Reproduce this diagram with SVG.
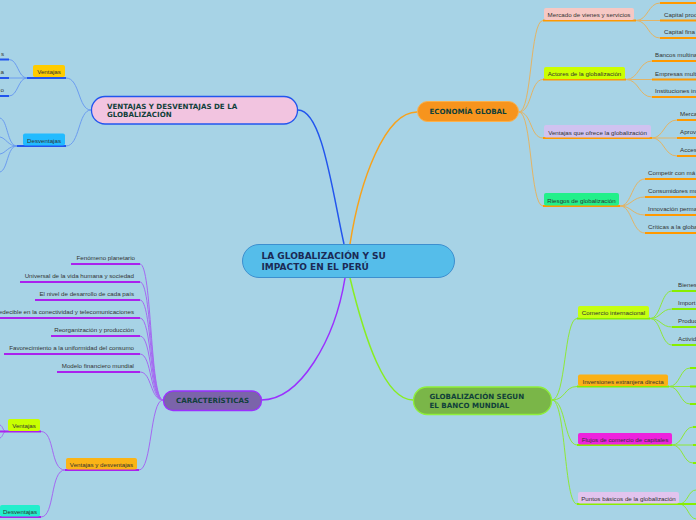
<svg xmlns="http://www.w3.org/2000/svg" width="696" height="520" viewBox="0 0 696 520">
<style>
.bg{fill:#a7d3e6}
.t{font-family:"Liberation Sans",Arial,sans-serif;font-size:6.2px;fill:#333}
.tm{font-family:"Liberation Sans",Arial,sans-serif;font-size:6.2px;fill:#333;text-anchor:middle}
.te{font-family:"Liberation Sans",Arial,sans-serif;font-size:6.2px;fill:#333;text-anchor:end}
.main{font-family:"DejaVu Sans",Verdana,sans-serif;font-weight:bold;font-size:7.1px;fill:#10403a}
.mainc{font-family:"DejaVu Sans",Verdana,sans-serif;font-weight:bold;font-size:7.1px;fill:#10403a;text-anchor:middle}
.center{font-family:"DejaVu Sans",Verdana,sans-serif;font-weight:bold;font-size:9px;fill:#1b2a55}
.c{fill:none}
.cb{stroke:#2255ee;stroke-width:1.5}
.co{stroke:#f7a21b;stroke-width:1.5}
.cp{stroke:#9b30ff;stroke-width:1.5}
.cg{stroke:#88ee22;stroke-width:1.5}
.sb{stroke:#6b9cf0;stroke-width:1}
.so{stroke:#e3b465;stroke-width:1}
.sp{stroke:#a468f2;stroke-width:1}
.sg{stroke:#8ee838;stroke-width:1}
.ub{stroke:#2255ee;stroke-width:2}
.uo{stroke:#ff9900;stroke-width:2}
.up{stroke:#aa22ee;stroke-width:2}
.ug{stroke:#88ee00;stroke-width:2}
</style>
<rect class="bg" x="0" y="0" width="696" height="520"/>

<g id="connectors" class="c">
  <!-- main -->
  <path class="cb" d="M298,110 C322,110 332,190 344,244"/>
  <path class="co" d="M350,244 C360,180 385,112 417,112"/>
  <path class="cp" d="M345,278 C335,340 300,400 261.5,400"/>
  <path class="cg" d="M350,278 C365,340 385,400 413,400"/>

  <!-- ventajas y desventajas group -->
  <path class="sb" d="M91,110 C78,110 80,78 66,78"/>
  <path class="sb" d="M91,110 C78,110 80,146 66,146"/>
  <path class="sb" d="M27,78 C18,78 18,59.5 9,59.5"/>
  <path class="sb" d="M27,78 H9"/>
  <path class="sb" d="M27,78 C18,78 18,96 9,96"/>
  <path class="sb" d="M17,146 C7,146 8,120 0,118"/>
  <path class="sb" d="M17,146 C8,146 6,138 0,137"/>
  <path class="sb" d="M17,146 C8,146 6,153 0,154"/>
  <path class="sb" d="M17,146 C7,146 8,170 0,172"/>
  <path class="ub" d="M27,78 H66 M0,59.5 H9 M0,78 H9 M0,96 H9 M17,146 H66"/>

  <!-- economia global group -->
  <path class="so" d="M519,112 C532,112 530,20.5 543,20.5"/>
  <path class="so" d="M519,112 C532,112 530,79.5 543,79.5"/>
  <path class="so" d="M519,112 C532,112 530,138 543,138"/>
  <path class="so" d="M519,112 C532,112 530,206 543,206"/>
  <path class="so" d="M636,20.5 C648,20.5 648,3 660,3"/>
  <path class="so" d="M636,20.5 H660"/>
  <path class="so" d="M636,20.5 C648,20.5 648,38 660,38"/>
  <path class="so" d="M626,79.5 C639,79.5 639,61 652,61"/>
  <path class="so" d="M626,79.5 H652"/>
  <path class="so" d="M626,79.5 C639,79.5 639,97 652,97"/>
  <path class="so" d="M652,138 C664,138 664,120 677,120"/>
  <path class="so" d="M652,138 H677"/>
  <path class="so" d="M652,138 C664,138 664,156 677,156"/>
  <path class="so" d="M620,206 C632,206 632,179 645,179"/>
  <path class="so" d="M620,206 C632,206 632,197 645,197"/>
  <path class="so" d="M620,206 C632,206 632,215 645,215"/>
  <path class="so" d="M620,206 C632,206 632,233 645,233"/>
  <path class="uo" d="M543,20.5 H636 M543,79.5 H626 M543,138 H652 M543,206 H620"/>
  <path class="uo" d="M660,3 H696 M660,20.5 H696 M660,38 H696"/>
  <path class="uo" d="M652,61 H696 M652,79.5 H696 M652,97 H696"/>
  <path class="uo" d="M677,120 H696 M677,138 H696 M677,156 H696"/>
  <path class="uo" d="M645,179 H696 M645,197 H696 M645,215 H696 M645,233 H696"/>

  <!-- banco mundial group -->
  <path class="sg" d="M552,400 C566,400 564,318.5 577,318.5"/>
  <path class="sg" d="M552,400 C566,400 564,386.5 577,386.5"/>
  <path class="sg" d="M552,400 C566,400 564,445 577,445"/>
  <path class="sg" d="M552,400 C566,400 564,504 577,504"/>
  <path class="sg" d="M650,318.5 C661,318.5 661,291 672,291"/>
  <path class="sg" d="M650,318.5 C661,318.5 661,309 672,309"/>
  <path class="sg" d="M650,318.5 C661,318.5 661,327 672,327"/>
  <path class="sg" d="M650,318.5 C661,318.5 661,345 672,345"/>
  <path class="sg" d="M669,386.5 C680,386.5 680,368 690,368"/>
  <path class="sg" d="M669,386.5 H690"/>
  <path class="sg" d="M669,386.5 C680,386.5 680,404 690,404"/>
  <path class="sg" d="M672,445 C683,445 683,427 693,427"/>
  <path class="sg" d="M672,445 H693"/>
  <path class="sg" d="M672,445 C683,445 683,463 693,463"/>
  <path class="sg" d="M679,504 C688,504 688,490 696,490"/>
  <path class="sg" d="M679,504 C688,504 688,518 696,519"/>
  <path class="ug" d="M577,318.5 H650 M577,386.5 H669 M577,445 H672 M577,504 H696"/>
  <path class="ug" d="M672,291 H696 M672,309 H696 M672,327 H696 M672,345 H696"/>
  <path class="ug" d="M690,368 H696 M690,386.5 H696 M690,404 H696 M693,427 H696 M693,445 H696 M693,463 H696"/>

  <!-- caracteristicas group -->
  <path class="sp" d="M163,400 C150,400 152,264 140,264"/>
  <path class="sp" d="M163,400 C150,400 152,282 140,282"/>
  <path class="sp" d="M163,400 C150,400 152,300 140,300"/>
  <path class="sp" d="M163,400 C150,400 152,318 140,318"/>
  <path class="sp" d="M163,400 C150,400 152,336 140,336"/>
  <path class="sp" d="M163,400 C150,400 152,354 140,354"/>
  <path class="sp" d="M163,400 C150,400 152,372 140,372"/>
  <path class="sp" d="M163,400 C150,400 152,470 139,470"/>
  <path class="sp" d="M65,470 C50,470 55,431.5 41,431.5"/>
  <path class="sp" d="M65,470 C50,470 55,517 41,517"/>
  <path class="sp" d="M6,431.5 C3,431.5 3,426 0,425"/>
  <path class="sp" d="M6,431.5 C3,431.5 3,437 0,438"/>
  <path class="up" d="M71,264 H140 M20,282 H140 M35,300 H140 M0,318 H140 M51,336 H140 M4,354 H140 M57,372 H140"/>
  <path class="up" d="M65,470 H139 M0,431.5 H41 M0,517 H41"/>
</g>

<g id="center">
  <rect x="242.5" y="244.5" width="212" height="33" rx="16.5" fill="#55bdea" stroke="#3d8fcf" stroke-width="1"/>
  <text class="center" x="261.5" y="259">LA GLOBALIZACIÓN Y SU</text>
  <text class="center" x="261.5" y="269.5">IMPACTO EN EL PERÚ</text>
</g>

<g id="ventajas-desventajas">
  <rect x="91.5" y="96.5" width="206" height="27.5" rx="13.5" fill="#f2c4e0" stroke="#2255ee" stroke-width="1.3"/>
  <text class="main" x="107" y="109">VENTAJAS Y DESVENTAJAS DE LA</text>
  <text class="main" x="107" y="117">GLOBALIZACIÓN</text>
</g>
<g id="vd-ventajas">
  <rect x="33" y="65" width="32" height="12" rx="2" fill="#ffcc00"/>
  <text class="tm" x="49" y="74">Ventajas</text>
  <text class="te" x="4" y="55.5">s</text>
  <text class="te" x="4" y="74">a</text>
  <text class="te" x="4" y="92">o</text>
</g>
<g id="vd-desventajas">
  <rect x="23" y="133.5" width="42" height="12" rx="2" fill="#22bbff"/>
  <text class="tm" x="44" y="142.5">Desventajas</text>
</g>

<g id="economia">
  <rect x="417.5" y="101.5" width="101" height="20" rx="10" fill="#f7941d" stroke="#fbb04a" stroke-width="1"/>
  <text class="mainc" x="468" y="114">ECONOMÍA GLOBAL</text>
</g>
<g id="eco-mercado">
  <rect x="544" y="8" width="90" height="12" rx="2" fill="#f6c8c4"/>
  <text class="tm" x="589" y="17">Mercado de vienes y servicios</text>
  <text class="t" x="664" y="16.5">Capital prod</text>
  <text class="t" x="664" y="34">Capital fina</text>
</g>
<g id="eco-actores">
  <rect x="544" y="67" width="81" height="12" rx="2" fill="#ccff00"/>
  <text class="tm" x="584.5" y="76">Actores de la globalización</text>
  <text class="t" x="655" y="57">Bancos multina</text>
  <text class="t" x="655" y="75.5">Empresas multi</text>
  <text class="t" x="655" y="93">Instituciones in</text>
</g>
<g id="eco-ventajas">
  <rect x="544" y="125" width="107" height="12.5" rx="2" fill="#d0c2f0"/>
  <text class="tm" x="597.5" y="134.5">Ventajas que ofrece la globalización</text>
  <text class="t" x="680" y="116">Merca</text>
  <text class="t" x="680" y="134">Aprov</text>
  <text class="t" x="680" y="152">Acces</text>
</g>
<g id="eco-riesgos">
  <rect x="544" y="193" width="75" height="12.5" rx="2" fill="#22f08a"/>
  <text class="tm" x="581.5" y="202.5">Riesgos de globalización</text>
  <text class="t" x="648" y="175">Competir con má</text>
  <text class="t" x="648" y="193">Consumidores mu</text>
  <text class="t" x="648" y="211">Innovación perma</text>
  <text class="t" x="648" y="229">Críticas a la globa</text>
</g>

<g id="banco">
  <rect x="413.5" y="387" width="138" height="27.5" rx="13.5" fill="#7ab648" stroke="#8ef03a" stroke-width="1.3"/>
  <text class="main" x="429.5" y="398.5">GLOBALIZACIÓN SEGUN</text>
  <text class="main" x="429.5" y="408">EL BANCO MUNDIAL</text>
</g>
<g id="banco-comercio">
  <rect x="578" y="306" width="71" height="12" rx="2" fill="#c6ff10"/>
  <text class="tm" x="613.5" y="315">Comercio internacional</text>
  <text class="t" x="678" y="287">Bienes</text>
  <text class="t" x="678" y="305">Import</text>
  <text class="t" x="678" y="323">Produc</text>
  <text class="t" x="678" y="341">Activid</text>
</g>
<g id="banco-inversiones">
  <rect x="578" y="374.5" width="90" height="11.5" rx="2" fill="#fbb116"/>
  <text class="tm" x="623" y="383.5">Inversiones extranjera directa</text>
</g>
<g id="banco-flujos">
  <rect x="578" y="433" width="94" height="11.5" rx="2" fill="#ee22dd"/>
  <text class="tm" x="625" y="442">Flujos de comercio de capitales</text>
</g>
<g id="banco-puntos">
  <rect x="578" y="492" width="101" height="11.5" rx="2" fill="#e2c4ee"/>
  <text class="tm" x="628.5" y="501">Puntos básicos de la globalización</text>
</g>

<g id="caracteristicas">
  <rect x="163.5" y="391" width="98" height="19.5" rx="9.5" fill="#7b64aa" stroke="#9b30ff" stroke-width="1.3"/>
  <text class="mainc" x="212.5" y="403.3">CARACTERÍSTICAS</text>
</g>
<g id="car-items">
  <text class="te" x="135" y="260">Fenómeno planetario</text>
  <text class="te" x="134" y="278">Universal de la vida humana y sociedad</text>
  <text class="te" x="134" y="296">El nivel de desarrollo de cada país</text>
  <text class="te" x="134" y="314">edecible en la conectividad y telecomunicaciones</text>
  <text class="te" x="134" y="332">Reorganización y producción</text>
  <text class="te" x="134" y="350">Favorecimiento a la uniformidad del consumo</text>
  <text class="te" x="134" y="368">Modelo financiero mundial</text>
</g>
<g id="car-vyd">
  <rect x="66" y="458" width="71" height="11.5" rx="2" fill="#fbb416"/>
  <text class="tm" x="101.5" y="467">Ventajas y desventajas</text>
</g>
<g id="car-ventajas">
  <rect x="8" y="419" width="32" height="12" rx="2" fill="#c8ff00"/>
  <text class="tm" x="24" y="428">Ventajas</text>
</g>
<g id="car-desventajas">
  <rect x="0" y="505" width="40" height="11.5" rx="2" fill="#22eecc"/>
  <text class="tm" x="20" y="514">Desventajas</text>
</g>
</svg>
